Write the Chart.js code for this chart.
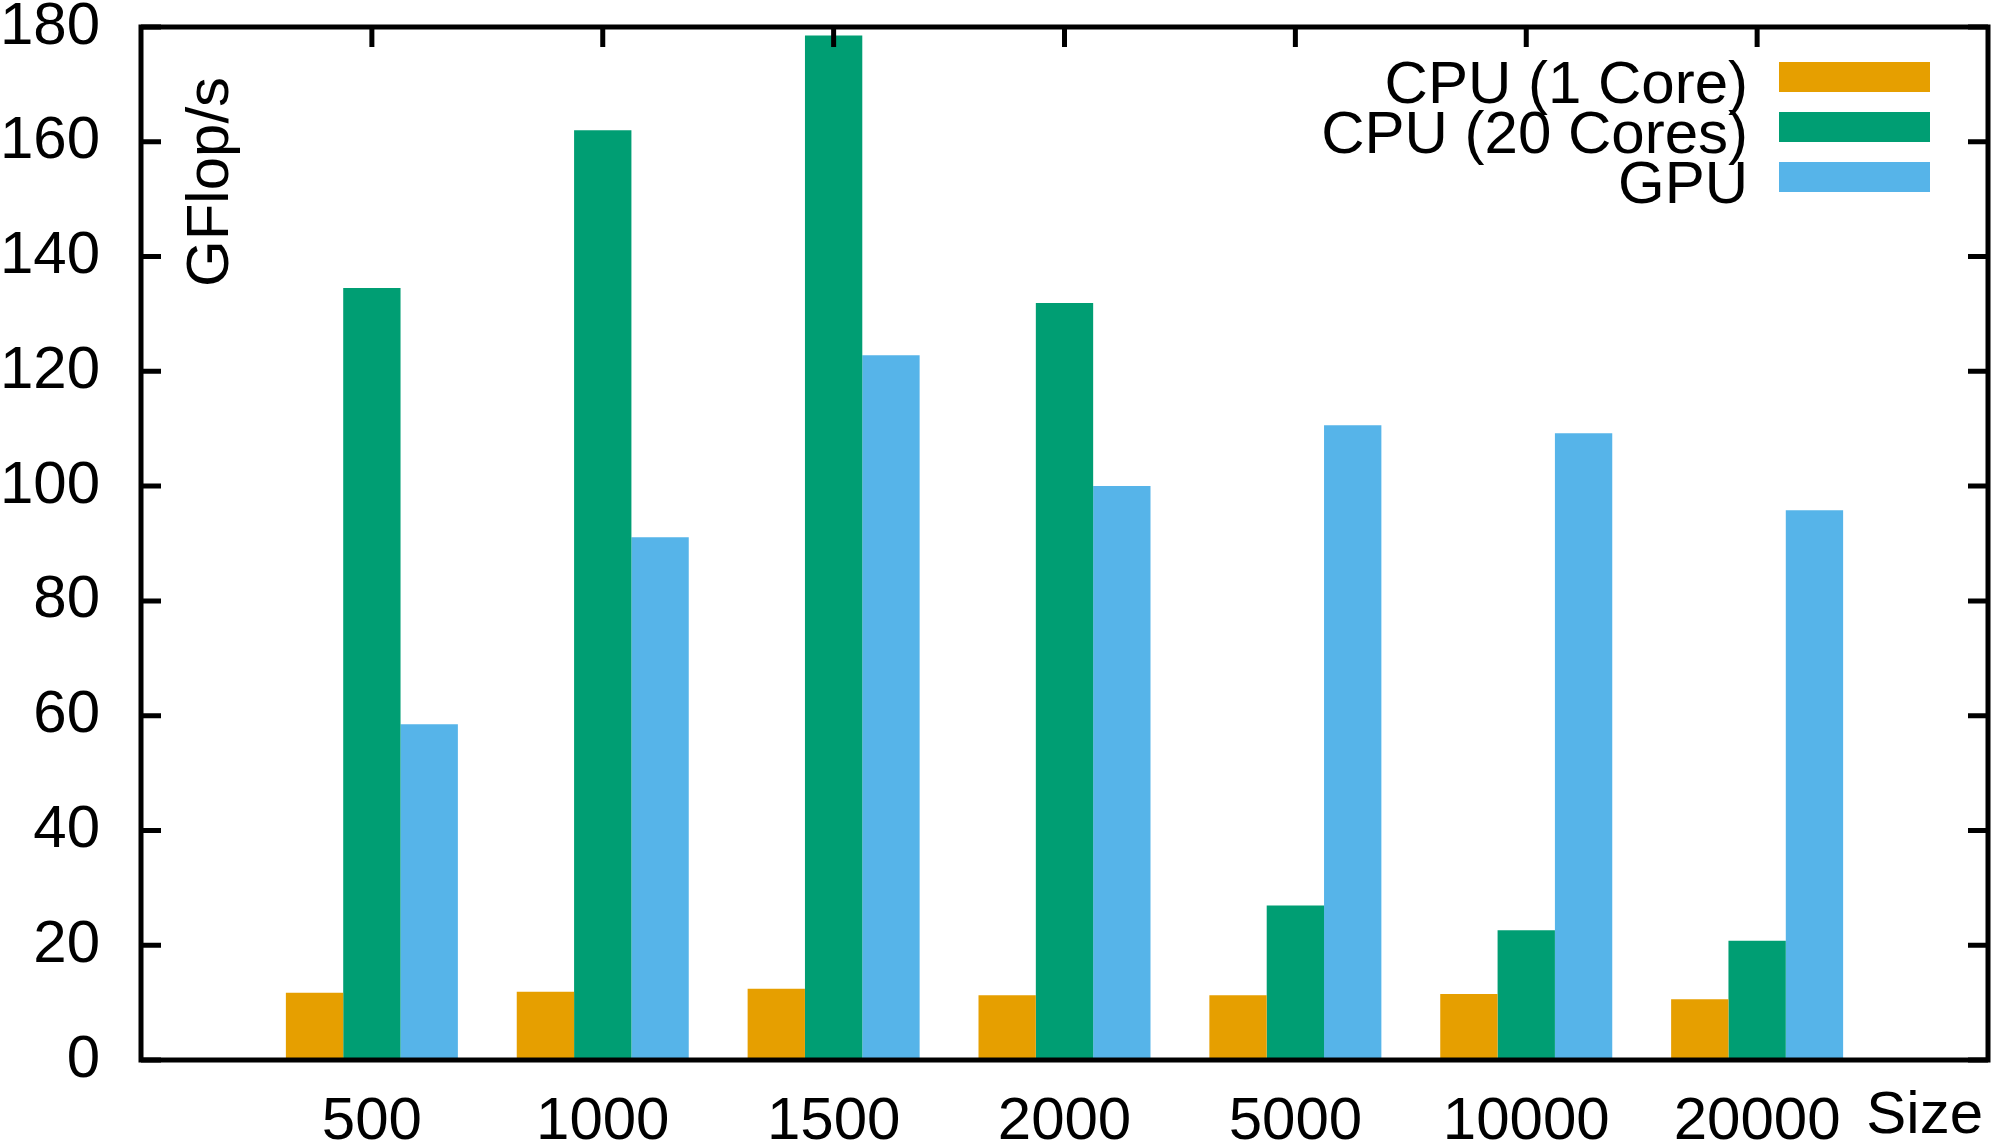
<!DOCTYPE html>
<html>
<head>
<meta charset="utf-8">
<script src="https://cdn.jsdelivr.net/npm/chart.js@4.4.0/dist/chart.umd.min.js"></script>
<style>
  html, body { margin: 0; padding: 0; background: #fff; }
  #wrap { width: 2004px; height: 1141px; }
</style>
</head>
<body>
<div id="wrap"><canvas id="grafico" width="2004" height="1141"></canvas></div>
<script>
// matrix sizes and measured throughput (GFlop/s)
const sizes = ['500', '1000', '1500', '2000', '5000', '10000', '20000'];
const cpu1 = [11.7, 11.9, 12.4, 11.3, 11.3, 11.5, 10.6];
const cpu20 = [134.5, 162.0, 178.5, 131.9, 26.9, 22.6, 20.8];
const gpu = [58.5, 91.1, 122.8, 100.0, 110.6, 109.2, 95.8];
const yMin = 0, yMax = 180, yStep = 20;

const FONT = 'Liberation Sans, Arial, sans-serif';
const FSIZE = 60;

// empty slot at each end so the groups sit one full slot away from the frame
const xLabels = [''].concat(sizes, ['']);
const pad = arr => [null].concat(arr, [null]);

Chart.defaults.font.family = FONT;
Chart.defaults.font.size = FSIZE;
Chart.defaults.color = '#000';

// frame, inward ticks, axis labels and legend, gnuplot style
const moldura = {
    id: 'moldura',
    afterDatasetsDraw(chart) {
        const ctx = chart.ctx;
        const a = chart.chartArea;
        const xs = chart.scales.x, ys = chart.scales.y;
        const tick = 20;
        ctx.save();
        ctx.strokeStyle = '#000';
        ctx.lineWidth = 5;
        ctx.lineCap = 'butt';
        ctx.beginPath();
        for (let v = yMin; v <= yMax; v += yStep) {
            const y = ys.getPixelForValue(v);
            ctx.moveTo(a.left, y); ctx.lineTo(a.left + tick, y);
            ctx.moveTo(a.right, y); ctx.lineTo(a.right - tick, y);
        }
        for (let i = 1; i <= sizes.length; i++) {
            const x = xs.getPixelForValue(i);
            ctx.moveTo(x, a.top); ctx.lineTo(x, a.top + tick);
        }
        ctx.stroke();
        ctx.lineJoin = 'miter';
        ctx.strokeRect(a.left, a.top, a.right - a.left, a.bottom - a.top);

        ctx.fillStyle = '#000';
        ctx.font = FSIZE + 'px ' + FONT;

        // y axis title, inside the plot
        ctx.save();
        ctx.translate(a.left + 87, a.top + 260);
        ctx.rotate(-Math.PI / 2);
        ctx.textAlign = 'left';
        ctx.textBaseline = 'alphabetic';
        ctx.fillText('GFlop/s', 0, 0);
        ctx.restore();

        // x axis title
        ctx.textAlign = 'right';
        ctx.textBaseline = 'alphabetic';
        ctx.fillText('Size', a.right - 5, 1133);

        // legend: right-aligned text, swatch on the right
        chart.data.datasets.forEach((ds, i) => {
            const yTop = a.top + 35 + i * 50;
            ctx.fillStyle = ds.backgroundColor;
            ctx.fillRect(a.right - 209, yTop, 151, 30);
            ctx.fillStyle = '#000';
            ctx.fillText(ds.label, a.right - 240, yTop + 41);
        });
        ctx.restore();
    }
};

const ctx = document.getElementById('grafico').getContext('2d');
const grafico = new Chart(ctx, {
    type: 'bar',
    data: {
        labels: xLabels,
        datasets: [
            { label: 'CPU (1 Core)', data: pad(cpu1), backgroundColor: '#E69F00' },
            { label: 'CPU (20 Cores)', data: pad(cpu20), backgroundColor: '#009E73' },
            { label: 'GPU', data: pad(gpu), backgroundColor: '#56B4E9' }
        ]
    },
    options: {
        responsive: false,
        animation: false,
        layout: { autoPadding: false, padding: { left: 0, top: 27, right: 16, bottom: 0 } },
        datasets: { bar: { categoryPercentage: 0.745, barPercentage: 1.0, borderWidth: 0 } },
        plugins: { legend: { display: false }, tooltip: { enabled: false } },
        scales: {
            x: {
                offset: false,
                grid: { display: false, offset: false },
                border: { display: false },
                ticks: { autoSkip: false, maxRotation: 0, minRotation: 0, padding: 18 },
                afterFit: s => {
                    s.height = 81;
                    s.paddingLeft = 0; s.paddingRight = 0;
                }
            },
            y: {
                min: yMin,
                max: yMax,
                grid: { display: false },
                border: { display: false },
                ticks: { stepSize: yStep, padding: 33 },
                afterFit: s => {
                    s.width = 141;
                    s.paddingTop = 0; s.paddingBottom = 0;
                }
            }
        }
    },
    plugins: [moldura]
});
</script>
</body>
</html>
